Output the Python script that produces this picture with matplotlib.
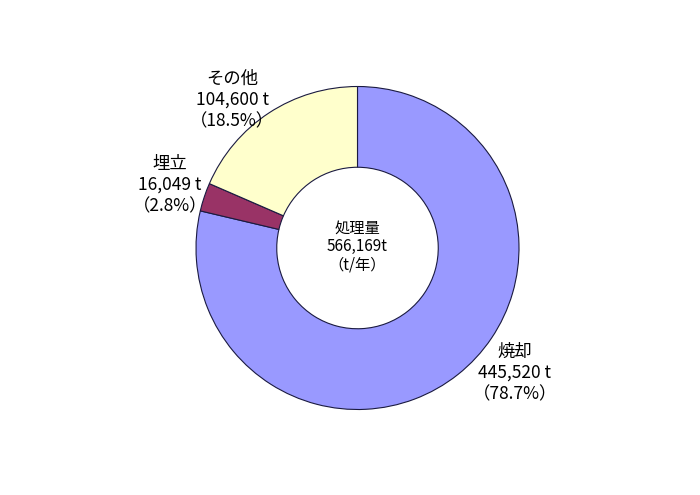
import matplotlib
matplotlib.use("Agg")
import matplotlib.pyplot as plt

plt.rcParams['font.family'] = ['Noto Sans CJK JP', 'DejaVu Sans']

categories = ["焼却", "埋立", "その他"]
values = [445520, 16049, 104600]
percents = ["78.7%", "2.8%", "18.5%"]
colors = ["#9999FF", "#993366", "#FFFFCC"]
total_label = "処理量\n566,169t\n（t/年）"

fig = plt.figure(figsize=(7, 4.95), dpi=100)
R = 161.5
cx, cy = 357.5, 248.0
W, H = 700, 495
xr, yr = 2.1, 1.5
ax = fig.add_axes([(cx - R * xr) / W, (H - cy - R * yr) / H, 2 * R * xr / W, 2 * R * yr / H])

ax.pie(values, colors=colors, startangle=90, counterclock=False, radius=1.0,
       wedgeprops=dict(width=0.5, edgecolor='#1a1a40', linewidth=0.8))
ax.set_aspect('auto')
ax.set_xlim(-xr, xr)
ax.set_ylim(-yr, yr)
ax.axis('off')

label_pos = [(0.975, -0.774), (-1.161, 0.39), (-0.777, 0.916)]
for name, v, p, (x, y) in zip(categories, values, percents, label_pos):
    ax.text(x, y, f"{name}\n{v:,} t\n（{p}）", ha='center', va='center',
            fontsize=12.5, linespacing=1.22)

ax.text(0, 0.01, total_label, ha='center', va='center', fontsize=11, linespacing=1.1)

fig.savefig("out.png", dpi=100)
